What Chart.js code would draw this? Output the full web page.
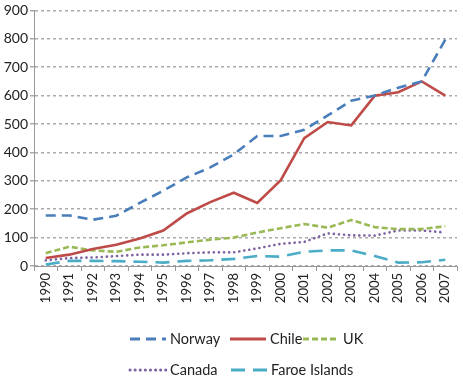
<!DOCTYPE html>
<html>
<head>
<meta charset="utf-8">
<script src="https://cdn.jsdelivr.net/npm/chart.js@4"></script>
<style>
  html, body { margin: 0; padding: 0; background: #fff; }
  #wrap { width: 463px; height: 380px; position: relative; }
</style>
</head>
<body>
<div id="wrap"><canvas id="chart" width="463" height="380"></canvas></div>
<script>
const years = ["1990", "1991", "1992", "1993", "1994", "1995", "1996", "1997", "1998", "1999",
    "2000", "2001", "2002", "2003", "2004", "2005", "2006", "2007"];
const norway = [178, 178, 163, 177, 222, 265, 312, 347, 393, 458, 458, 480, 530, 582, 600, 628, 650, 797];
const chile = [28, 40, 60, 75, 97, 125, 185, 225, 258, 222, 302, 450, 507, 495, 600, 612, 650, 600];
const uk = [45, 68, 55, 50, 65, 73, 83, 93, 100, 118, 133, 148, 135, 162, 137, 130, 130, 140];
const canada = [20, 28, 30, 35, 40, 40, 45, 48, 48, 62, 78, 85, 115, 108, 107, 125, 125, 118];
const faroe = [5, 18, 18, 17, 15, 12, 18, 20, 25, 35, 33, 50, 55, 55, 35, 12, 13, 22];
const yTicks = [0, 100, 200, 300, 400, 500, 600, 700, 800, 900];

const FONT = "Lato, 'Open Sans', sans-serif";

function series(label, data, color, dash, cap) {
    return {
        label: label,
        data: data,
        borderColor: color,
        backgroundColor: color,
        borderWidth: 2.6,
        borderDash: dash,
        borderCapStyle: cap || 'butt',
        pointRadius: 0,
        tension: 0,
        fill: false
    };
}

// legend drawn by hand so the dash patterns show
const dashLegend = {
    id: 'dashLegend',
    afterDraw(chart) {
        const ctx = chart.ctx;
        const sets = chart.data.datasets;
        const spots = [[130, 339], [230, 339], [303, 339], [130, 370], [231, 370]];
        ctx.save();
        ctx.font = "14.5px " + FONT;
        ctx.fillStyle = '#222';
        ctx.textBaseline = 'middle';
        sets.forEach(function (ds, i) {
            const x = spots[i][0], y = spots[i][1];
            ctx.strokeStyle = ds.borderColor;
            ctx.lineWidth = 3;
            ctx.lineCap = ds.borderCapStyle;
            ctx.setLineDash(ds.borderDash);
            ctx.beginPath();
            ctx.moveTo(x, y);
            ctx.lineTo(x + 36, y);
            ctx.stroke();
            ctx.setLineDash([]);
            ctx.fillText(ds.label, x + 40, y);
        });
        ctx.restore();
    }
};

new Chart(document.getElementById('chart'), {
    type: 'line',
    data: {
        labels: years,
        datasets: [
            series('Norway', norway, '#4a7ebb', [10, 6]),
            series('Chile', chile, '#be4b48', []),
            series('UK', uk, '#98b954', [6, 3]),
            series('Canada', canada, '#7d60a0', [0.1, 5], 'round'),
            series('Faroe Islands', faroe, '#4bacc6', [14, 8])
        ]
    },
    options: {
        responsive: false,
        animation: false,
        layout: { padding: { top: 9, right: 5, left: 0, bottom: 0 } },
        plugins: {
            legend: { display: false },
            tooltip: { enabled: false },
            title: { display: false }
        },
        scales: {
            x: {
                offset: true,
                grid: {
                    offset: true,
                    drawOnChartArea: false,
                    drawTicks: true,
                    tickLength: 5,
                    color: '#999'
                },
                border: { color: '#999', width: 1 },
                ticks: {
                    minRotation: 90,
                    maxRotation: 90,
                    autoSkip: false,
                    color: '#222',
                    font: { family: FONT, size: 13 },
                    padding: 2
                },
                afterFit(scale) { scale.height = 114; }
            },
            y: {
                min: 0,
                max: 900,
                afterBuildTicks(scale) { scale.ticks = yTicks.map(v => ({ value: v })); },
                grid: {
                    color: '#aaa',
                    lineWidth: 1.5,
                    tickLength: 4
                },
                border: { color: '#999', dash: [3, 3], width: 1 },
                ticks: {
                    color: '#222',
                    font: { family: FONT, size: 14 },
                    padding: 2
                },
                afterFit(scale) { scale.width = 34; }
            }
        }
    },
    plugins: [dashLegend]
});
</script>
</body>
</html>
